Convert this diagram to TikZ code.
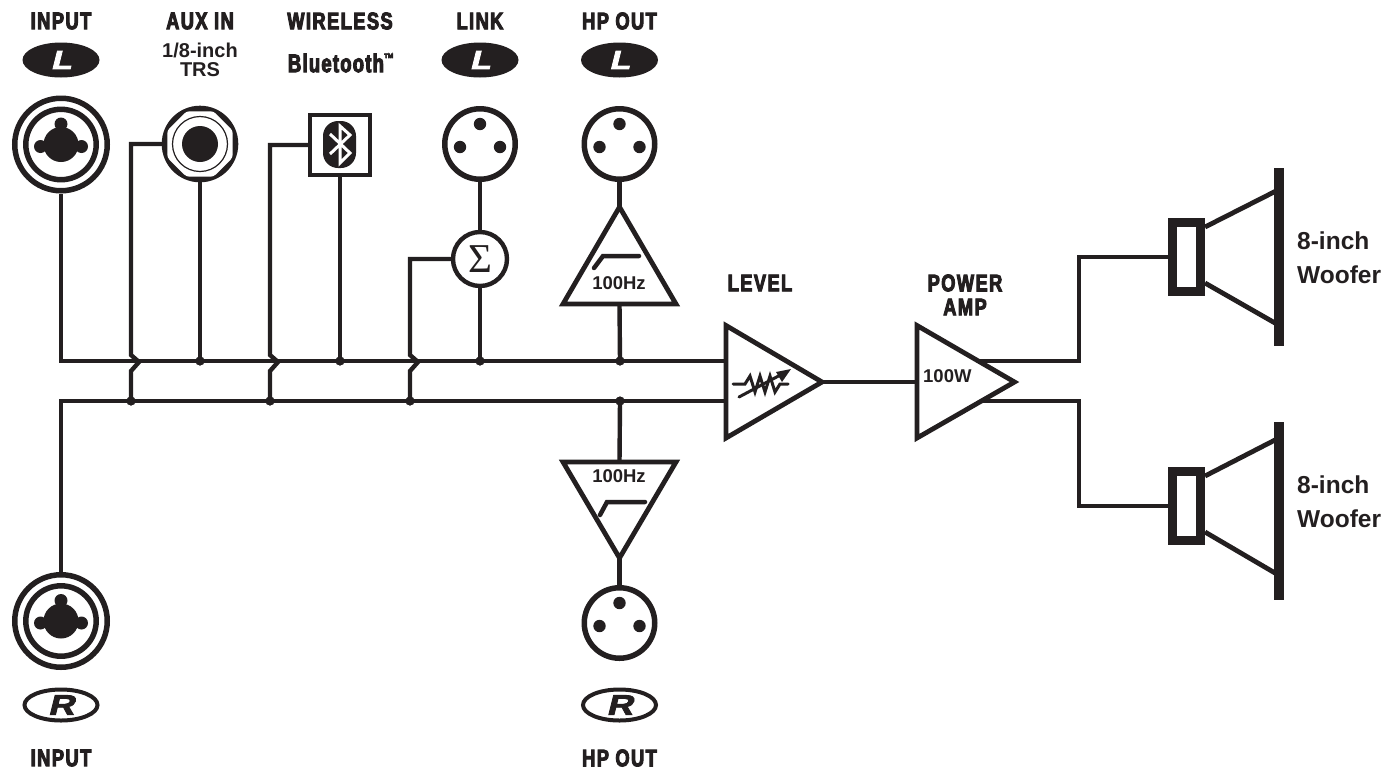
\documentclass[tikz,border=0pt]{standalone}
\usepackage{fontspec}
\setmainfont{Liberation Sans}
\newfontfamily\headfont[FakeStretch=0.76,FakeBold=4,LetterSpace=6]{Liberation Sans Bold}
\newfontfamily\btfont[FakeStretch=0.72,FakeBold=4,LetterSpace=5]{Liberation Sans Bold}
\newfontfamily\ovalfont[FakeStretch=1.3,FakeBold=3,FakeSlant=0.25]{Liberation Sans Bold}
\newfontfamily\sumfont{Liberation Serif}
\usetikzlibrary{calc,shapes.geometric}
\definecolor{ink}{HTML}{231F20}
\tikzset{
  wire/.style={draw=ink,line width=4.4pt,line join=miter},
  headlabel/.style={text=ink,font=\headfont\fontsize{24}{24}\selectfont,inner sep=0pt},
  bodylabel/.style={text=ink,font=\bfseries\fontsize{20}{20}\selectfont,inner sep=0pt},
  smalllabel/.style={text=ink,font=\bfseries\fontsize{18.5}{18.5}\selectfont,inner sep=0pt},
  wooflabel/.style={text=ink,font=\bfseries\fontsize{24.5}{24.5}\selectfont,inner sep=0pt,anchor=west},
  dot/.style={circle,fill=ink,inner sep=0pt,minimum size=9pt},
  xlr/.style={circle,draw=ink,fill=white,line width=5.5pt,inner sep=0pt,minimum size=70.5pt},
  combo/.style={circle,draw=ink,fill=white,line width=5.5pt,inner sep=0pt,minimum size=92.5pt},
  sumnode/.style={circle,draw=ink,fill=white,line width=4.4pt,inner sep=0pt,minimum size=54pt,font=\sumfont\fontsize{41}{41}\selectfont,text=ink},
  btbox/.style={draw=ink,fill=white,line width=3.8pt,minimum size=60.5pt,inner sep=0pt},
  tri/.style={draw=ink,fill=white,line width=4.8pt,line join=miter},
  ovalL/.style={ellipse,fill=ink,inner sep=0pt,minimum width=77pt,minimum height=35pt},
  ovalR/.style={ellipse,draw=ink,fill=white,line width=4pt,inner sep=0pt,minimum width=73pt,minimum height=31pt},
}
\newcommand{\xlrpins}[1]{%
  \fill[ink] (#1)+(0,-20) circle (6.2pt);
  \fill[ink] (#1)+(-20,3) circle (6.2pt);
  \fill[ink] (#1)+(20,3) circle (6.2pt);}
\newcommand{\combopins}[1]{%
  \draw[draw=ink,line width=5.5pt,fill=white] (#1) circle (35.2pt);
  \fill[ink] (#1) circle (17.5pt);
  \fill[ink] (#1)+(0,-20.5) circle (6.5pt);
  \fill[ink] (#1)+(-20.5,2) circle (6.5pt);
  \fill[ink] (#1)+(20.5,2) circle (6.5pt);}
\newcommand{\speaker}[5]{% rect centre y, bar top, bar bottom, cone top end, cone bottom end
  \draw[ink,line width=4.8pt] (1205,#1-30) -- (1275,#4);
  \draw[ink,line width=4.8pt] (1205,#1+26) -- (1275,#5);
  \fill[ink] (1274,#2) rectangle (1284,#3);
  \draw[ink,fill=white,line width=9.5pt,line join=miter] (1172.5,#1-34.5) rectangle (1200.5,#1+34.5);}
\begin{document}
\begin{tikzpicture}[x=1pt,y=-1pt]
\useasboundingbox (0,0) rectangle (1387,772);
\coordinate (topstart) at (61,361);
\coordinate (botstart) at (61,401);
\coordinate (busTend) at (726,361);
\coordinate (busBend) at (726,401);
\node[dot] (jA) at (131,401) {};
\node[dot] (jB) at (200,361) {};
\node[dot] (jC) at (270,401) {};
\node[dot] (jD) at (340,361) {};
\node[dot] (jE) at (410,401) {};
\node[dot] (jF) at (480,361) {};
\node[dot] (jG) at (620,361) {};
\node[dot] (jH) at (620,401) {};
\node[circle,minimum size=98pt,inner sep=0pt] (inL) at (61,144.5) {};
\node[circle,minimum size=98pt,inner sep=0pt] (inR) at (61,621) {};
\node[circle,minimum size=76pt,inner sep=0pt] (link) at (480,144) {};
\node[circle,minimum size=76pt,inner sep=0pt] (hpL) at (619.5,144) {};
\node[circle,minimum size=76pt,inner sep=0pt] (hpR) at (619.5,623) {};
\node[circle,minimum size=76pt,inner sep=0pt] (aux) at (200,144) {};
\node[circle,minimum size=58pt,inner sep=0pt] (sum) at (480,259) {};
\node[minimum size=64pt,inner sep=0pt] (bt) at (340,145) {};
\coordinate (hpLapex) at (619.5,207);
\coordinate (hpLbase) at (619.5,304);
\coordinate (hpRapex) at (619.5,558);
\coordinate (hpRbase) at (619.5,462);
\coordinate (lvlTip) at (822,382);
\coordinate (ampIn) at (917,382);
\coordinate (ampT) at (977,361);
\coordinate (ampB) at (977,401);
\coordinate (spk1) at (1168,257);
\coordinate (spk2) at (1168,506);
\draw[wire] (inL.south) -- (topstart) -- (busTend);
\draw[wire] (inR.north) -- (botstart) -- (busBend);
\draw[wire] (aux.west) -| (131,355) -- (139,362) -- (131,371) -- (jA.center);
\draw[wire] (bt.west) -| (270,355) -- (278,362) -- (270,371) -- (jC.center);
\draw[wire] (sum.west) -| (410,355) -- (418,362) -- (410,371) -- (jE.center);
\draw[wire] (aux.south) -- (jB.center);
\draw[wire] (bt.south) -- (jD.center);
\draw[wire] (link.south) -- (sum.north);
\draw[wire] (sum.south) -- (jF.center);
\draw[wire] (hpL.south) -- (hpLapex);
\draw[wire] (hpLbase) -- (jG.center);
\draw[wire] (jH.center) -- (hpRbase);
\draw[wire] (hpRapex) -- (hpR.north);
\draw[wire] (lvlTip) -- (ampIn);
\draw[wire] (ampT) -| (1079,257) -- (spk1);
\draw[wire] (ampB) -| (1079,506) -- (spk2);
\foreach \j in {jA,jB,jC,jD,jE,jF,jG,jH} \fill[ink] (\j) circle (4.5pt);
\node[combo] at (61,144.5) {};
\node[combo] at (61,621) {};
\combopins{61,144.5}
\combopins{61,621}
\node[xlr] at (480,144) {};
\node[xlr] at (619.5,144) {};
\node[xlr] at (619.5,623) {};
\xlrpins{480,144}
\xlrpins{619.5,144}
\xlrpins{619.5,623}
\fill[ink] (aux) circle (38.3pt);
\fill[white,rounded corners=3pt] (200,144)
  +(22.5:35.4) -- +(67.5:35.4) -- +(112.5:35.4) -- +(157.5:35.4)
  -- +(202.5:35.4) -- +(247.5:35.4) -- +(292.5:35.4) -- +(337.5:35.4) -- cycle;
\draw[ink,line width=1.2pt] (aux) circle (27.5pt);
\fill[ink] (aux) circle (18pt);
\node[btbox] at (340,145) {};
\fill[ink,rounded corners=15pt] (323,121) rectangle (356,168);
\draw[white,line width=3pt,line join=miter] (330,134) -- (350,153) -- (340,163) -- (340,126) -- (350,135) -- (330,154);
\node[sumnode] at (480,259) {Σ};
\draw[tri] (619.5,207) -- (676,304) -- (563,304) -- cycle;
\draw[ink,line width=4.5pt,line cap=round] (594,268) -- (603,256) -- (639,256);
\node[smalllabel] (hzL) at (619,283) {100Hz};
\draw[tri] (619.5,558) -- (676,462) -- (563,462) -- cycle;
\draw[ink,line width=4.5pt,line cap=round] (600,515) -- (607,502) -- (645,502);
\node[smalllabel] (hzR) at (619,476) {100Hz};
\draw[tri] (726,325.5) -- (822,382) -- (726,438) -- cycle;
\draw[ink,line width=3pt,line cap=round,line join=miter] (733,384) -- (745,384) -- (750,376) -- (755,392) -- (760,376) -- (765,392) -- (770,376) -- (775,392) -- (780,384) -- (788,384);
\draw[ink,line width=3pt,line cap=round] (739,397) -- (786,372);
\fill[ink] (791,369) -- (776,372) -- (782,382) -- cycle;
\draw[tri] (917,325.5) -- (1014.5,382) -- (917,438) -- cycle;
\node[smalllabel,anchor=west] (amp) at (923,376) {100W};
\speaker{257}{168}{346}{191.5}{323}
\speaker{506}{422}{600}{440}{573}
\node[ovalL] (o1) at (61,60) {};
\node[ovalL] (o2) at (480,60) {};
\node[ovalL] (o3) at (619.5,60) {};
\node[ovalR] (o4) at (61,705) {};
\node[ovalR] (o5) at (619.5,705) {};
\foreach \p in {o1,o2,o3} \node[text=white,font=\ovalfont\fontsize{26}{26}\selectfont,inner sep=0pt] at (\p) {L};
\foreach \p in {o4,o5} \node[text=ink,font=\ovalfont\fontsize{28}{28}\selectfont,inner sep=0pt] at (\p) {R};
\node[headlabel] (t1) at (61,21) {INPUT};
\node[headlabel] (t2) at (200,21) {AUX IN};
\node[headlabel] (t3) at (340,21) {WIRELESS};
\node[headlabel] (t4) at (480,21) {LINK};
\node[headlabel] (t5) at (619.5,21) {HP OUT};
\node[bodylabel] (t6) at (200,50) {1/8-inch};
\node[bodylabel] (t7) at (200,70) {TRS};
\node[text=ink,font=\btfont\fontsize{25.5}{25.5}\selectfont,inner sep=0pt] (t8) at (341,63) {Bluetooth\raisebox{.35em}{\fontsize{14}{14}\selectfont™}};
\node[headlabel] (t9) at (760,283) {LEVEL};
\node[headlabel] (t10) at (965,283) {POWER};
\node[headlabel] (t11) at (965,307) {AMP};
\node[headlabel] (t12) at (61,758) {INPUT};
\node[headlabel] (t13) at (619.5,758) {HP OUT};
\node[wooflabel] (w1) at (1297,241) {8-inch};
\node[wooflabel] (w2) at (1297,275) {Woofer};
\node[wooflabel] (w3) at (1297,485) {8-inch};
\node[wooflabel] (w4) at (1297,519) {Woofer};
\end{tikzpicture}
\end{document}
